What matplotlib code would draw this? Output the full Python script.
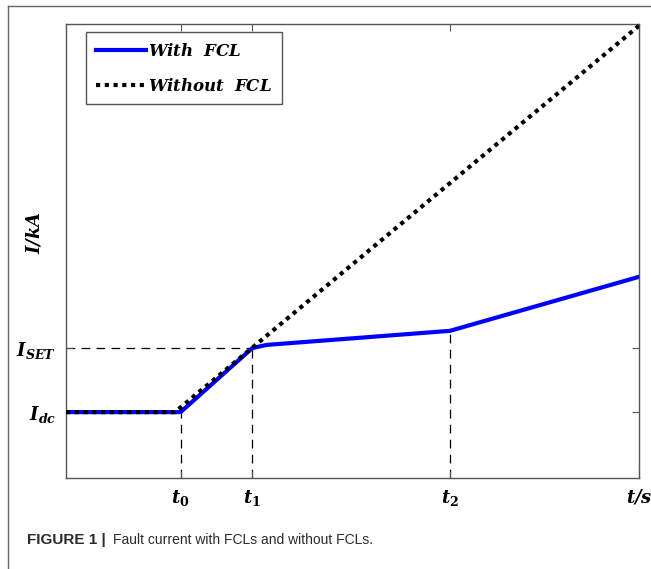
import matplotlib.pyplot as plt
from matplotlib.lines import Line2D

# Schematic values (arbitrary units)
t0, t1, t2, t_end = 2.0, 3.25, 6.7, 10.0
I_dc, I_set = 1.45, 2.86

with_fcl_t = [0.0, t0, t1, 3.5, t2, t_end]
with_fcl_i = [I_dc, I_dc, I_set, 2.93, 3.24, 4.43]

without_fcl_t = [0.0, 1.9, t_end]
without_fcl_i = [I_dc, I_dc, 9.96]

xtick_pos = [t0, t1, t2, t_end]
xtick_labels = [r"$\mathbfit{t}_{\mathbf{0}}$", r"$\mathbfit{t}_{\mathbf{1}}$",
                r"$\mathbfit{t}_{\mathbf{2}}$", r"$\mathbfit{t/s}$"]
ytick_pos = [I_dc, I_set]
ytick_labels = [r"$\mathbfit{I}_{\mathbfit{dc}}$", r"$\mathbfit{I}_{\mathbfit{SET}}$"]

plt.rcParams.update({
    "mathtext.fontset": "custom",
    "mathtext.bfit": "DejaVu Serif:italic:bold",
    "mathtext.bf": "DejaVu Serif:bold",
    "mathtext.rm": "DejaVu Serif",
    "mathtext.it": "DejaVu Serif:italic",
    "font.family": "Liberation Sans",
})

fig = plt.figure(figsize=(6.51, 5.69), dpi=100)
ax = fig.add_axes([0.1014, 0.160, 0.8802, 0.798])

frame_c = "#555555"
for s in ax.spines.values():
    s.set_color(frame_c)
    s.set_linewidth(1.0)

# dashed guides
guide = dict(color="black", linewidth=0.9, linestyle=(0, (7, 5)), zorder=1)
ax.plot([0, t1], [I_set, I_set], **guide)
ax.plot([t0, t0], [0, I_dc], **guide)
ax.plot([t1, t1], [0, I_set], **guide)
ax.plot([t2, t2], [0, with_fcl_i[4]], **guide)

ax.plot(with_fcl_t, with_fcl_i, color="#0000ff", linewidth=3.0,
        solid_joinstyle="round", label=r"$\mathbfit{With\ \ FCL}$", zorder=3)
ax.plot(without_fcl_t, without_fcl_i, color="black", linewidth=3.0,
        linestyle=(0, (1, 1.1)), label=r"$\mathbfit{Without\ \ FCL}$", zorder=4)

ax.set_xlim(0, t_end)
ax.set_ylim(0, 10)
ax.set_xticks(xtick_pos)
ax.set_xticklabels(xtick_labels, fontsize=13)
ax.set_yticks(ytick_pos)
ax.set_yticklabels(ytick_labels, fontsize=13)
ax.tick_params(direction="in", top=True, right=True, length=5,
               color=frame_c, pad=7)
ax.set_ylabel(r"$\mathbfit{I/kA}$", fontsize=13)
ax.yaxis.set_label_coords(-0.04, 0.54)

leg = ax.legend(loc="upper left", bbox_to_anchor=(0.035, 0.983), fontsize=12,
                fancybox=False, framealpha=1, edgecolor=frame_c,
                handlelength=3.0, handletextpad=0.1, borderpad=0.6,
                labelspacing=1.1, borderaxespad=0)
leg.get_frame().set_linewidth(1.0)

# outer figure frame (top and left)
fig.add_artist(Line2D([8 / 651, 1], [1 - 6 / 569, 1 - 6 / 569],
                      transform=fig.transFigure, color="#666666", linewidth=1.0))
fig.add_artist(Line2D([8 / 651, 8 / 651], [0, 1 - 6 / 569],
                      transform=fig.transFigure, color="#666666", linewidth=1.0))

fig.text(27 / 651, 1 - 540 / 569, "FIGURE 1 |", fontsize=11, fontweight="bold",
         color="#2b2b2b", va="center", ha="left")
fig.text(113 / 651, 1 - 540 / 569, "Fault current with FCLs and without FCLs.",
         fontsize=10, color="#2b2b2b", va="center", ha="left")

fig.savefig("out.png", dpi=100)
